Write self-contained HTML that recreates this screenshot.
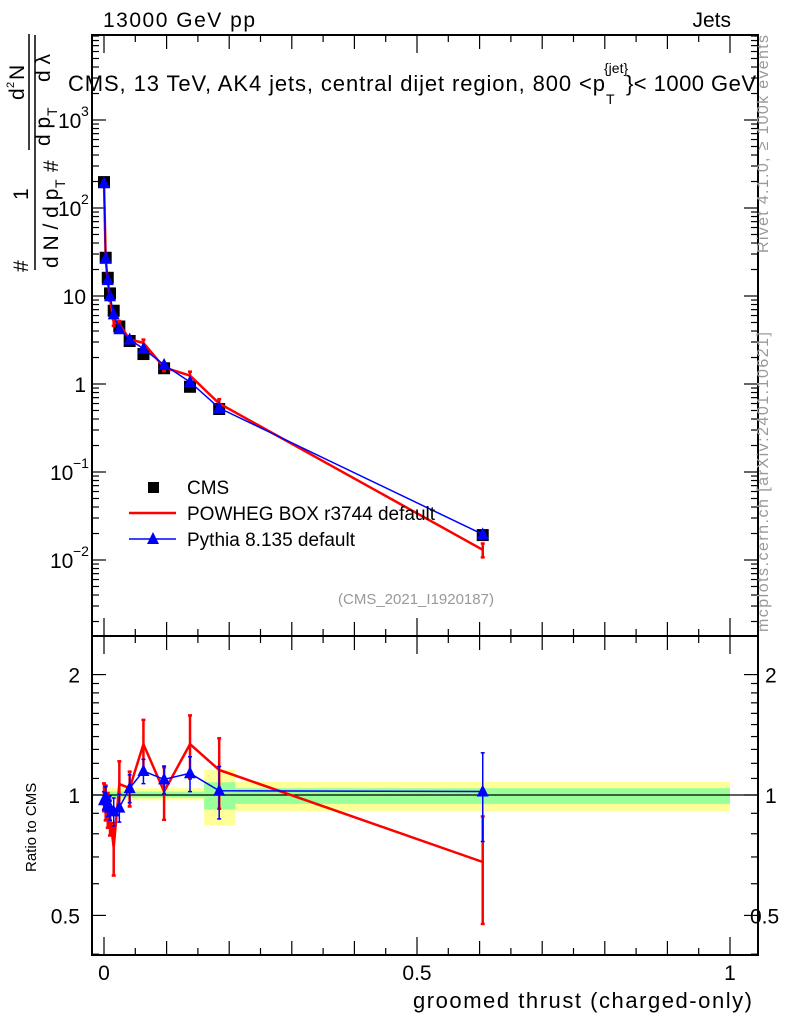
<!DOCTYPE html>
<html><head><meta charset="utf-8"><style>
body{margin:0;background:#fff}
svg{display:block;font-family:"Liberation Sans",sans-serif}
</style></head><body>
<svg id="c" width="786" height="1024" xmlns="http://www.w3.org/2000/svg"></svg>
<script>
const xs=[0,0.0027,0.006,0.0096,0.0155,0.0245,0.041,0.063,0.096,0.1374,0.184,0.605];
const cmsVals=[197,27.2,16.1,10.7,6.8,4.5,3.08,2.19,1.51,0.93,0.52,0.0192];
const powhegRatio=[0.99,0.96,0.92,0.88,0.74,1.065,1.04,1.34,1.02,1.34,1.155,0.68];
const powhegErr=[0.08,0.1,0.1,0.1,0.15,0.14,0.1,0.15,0.15,0.18,0.2,0.3];
const pythiaRatio=[0.97,0.99,0.94,0.93,0.91,0.93,1.04,1.148,1.094,1.133,1.025,1.02];
const pythiaErr=[0.05,0.06,0.06,0.07,0.08,0.08,0.08,0.07,0.08,0.1,0.15,0.25];
const bandEdges=[0,0.04,0.16,0.21,1.0];
const bandStatLo=[0.985,0.985,0.92,0.95];
const bandStatHi=[1.02,1.02,1.076,1.04];
const bandTotLo=[0.97,0.97,0.84,0.91];
const bandTotHi=[1.04,1.04,1.155,1.08];
const mainTicks=[[3,"10","3"],[2,"10","2"],[1,"10",""],[0,"1",""],[-1,"10","−1"],[-2,"10","−2"]];
const ratioTicks=[[2,"2"],[1,"1"],[0.5,"0.5"]];
const xTicks=[[0,"0"],[0.5,"0.5"],[1,"1"]];

const L=92,R=758,T=35,MB=636,RT=636,RB=955;
const X=v=>104+626*v;
const Y=v=>384-88*Math.log10(v);
const YR=v=>795-400*Math.log10(v);
const svg=document.getElementById('c');
const NS="http://www.w3.org/2000/svg";
function el(tag,attrs,parent){const e=document.createElementNS(NS,tag);for(const k in attrs)e.setAttribute(k,attrs[k]);(parent||svg).appendChild(e);return e;}
function txt(s,attrs,parent){const e=el('text',attrs,parent);e.textContent=s;return e;}

const bands=el('g',{});


for(let i=0;i<bandStatLo.length;i++){
 const x0=X(bandEdges[i]),x1=X(bandEdges[i+1]);
 el('rect',{x:x0,y:YR(bandTotHi[i]),width:x1-x0,height:YR(bandTotLo[i])-YR(bandTotHi[i]),fill:'#ffff99'},bands);
 el('rect',{x:x0,y:YR(bandStatHi[i]),width:x1-x0,height:YR(bandStatLo[i])-YR(bandStatHi[i]),fill:'#99ff99'},bands);
}
el('line',{x1:L,x2:R,y1:YR(1),y2:YR(1),stroke:'#000','stroke-width':1.2});

const f1=el('rect',{x:L,y:T,width:R-L,height:MB-T,fill:'none',stroke:'#000','stroke-width':2});

const f2=el('rect',{x:L,y:RT,width:R-L,height:RB-RT,fill:'none',stroke:'#000','stroke-width':2});


for(let d=-3;d<=3;d++){for(let m=1;m<10;m++){const y=Y(m*Math.pow(10,d));if(y<T||y>MB)continue;const len=m==1?14:7;
 el('line',{x1:L,x2:L+len,y1:y,y2:y,stroke:'#000','stroke-width':1.2});el('line',{x1:R,x2:R-len,y1:y,y2:y,stroke:'#000','stroke-width':1.2});}}
mainTicks.forEach(t=>{const y=Y(Math.pow(10,t[0]));const g=el('g',{});
 
 if(t[2]){txt(t[1],{x:t[0]<0?50:58,y:y+8,'font-size':21},g);txt(t[2],{x:t[0]<0?73:81,y:y-4,'font-size':14},g);}
 else txt(t[1],{x:86,y:y+8,'font-size':21,'text-anchor':'end'},g);});
[0.4,0.5,0.6,0.7,0.8,0.9,1,1.1,1.2,1.3,1.4,1.5,1.6,1.7,1.8,1.9,2].forEach(v=>{const y=YR(v);if(y<RT||y>RB)return;const len=(v==0.5||v==1||v==2)?14:7;
 el('line',{x1:L,x2:L+len,y1:y,y2:y,stroke:'#000','stroke-width':1.2});el('line',{x1:R,x2:R-len,y1:y,y2:y,stroke:'#000','stroke-width':1.2});});
ratioTicks.forEach(t=>{const y=YR(t[0]);
 const a=txt(t[1],{x:80,y:y+8,'font-size':21,'text-anchor':'end'});
 const b=txt(t[1],{x:t[0]<1?750:765,y:y+8,'font-size':21});});
for(let i=0;i<=20;i++){const v=i*0.05,x=X(v);const len=i%2==0?(i%10==0?18:14):7;
 el('line',{x1:x,x2:x,y1:T,y2:T+len,stroke:'#000','stroke-width':1.2});
 el('line',{x1:x,x2:x,y1:MB,y2:MB-len,stroke:'#000','stroke-width':1.2});
 el('line',{x1:x,x2:x,y1:MB,y2:MB+len,stroke:'#000','stroke-width':1.2});
 el('line',{x1:x,x2:x,y1:RB,y2:RB-len,stroke:'#000','stroke-width':1.2});
}
xTicks.forEach(t=>{const a=txt(t[1],{x:X(t[0]),y:980,'font-size':21,'text-anchor':'middle'});});

const pow=xs.map((x,i)=>[X(x),Y(cmsVals[i]*powhegRatio[i])]);
const pyt=xs.map((x,i)=>[X(x),Y(cmsVals[i]*pythiaRatio[i])]);
xs.forEach((x,i)=>{const r=el('rect',{x:X(x)-6,y:Y(cmsVals[i])-6,width:12,height:12,fill:'#000'});});
function series(pts,col,w,name,errs,vals,yf){
 const p=el('polyline',{points:pts.map(p=>p.join(',')).join(' '),fill:'none',stroke:col,'stroke-width':w});
 
 pts.forEach((q,i)=>{const v=vals[i];const y1=yf(v*(1+errs[i])),y2=yf(v*(1-errs[i]));
  el('line',{x1:q[0],x2:q[0],y1:y1,y2:y2,stroke:col,'stroke-width':w});
  el('line',{x1:q[0]-2,x2:q[0]+2,y1:y1,y2:y1,stroke:col,'stroke-width':w});
  el('line',{x1:q[0]-2,x2:q[0]+2,y1:y2,y2:y2,stroke:col,'stroke-width':w});});
}
series(pow,'#f00',2.5,'powheg-line',powhegErr.map(e=>e*0.6),xs.map((x,i)=>cmsVals[i]*powhegRatio[i]),Y);
series(pyt,'#00f',1.5,'pythia-line',pythiaErr.map(e=>e*0.5),xs.map((x,i)=>cmsVals[i]*pythiaRatio[i]),Y);
function tri(x,y,col,parent){const t=el('polygon',{points:`${x-6},${y+5} ${x+6},${y+5} ${x},${y-7}`,fill:col},parent);}
pyt.forEach(q=>tri(q[0],q[1],'#00f'));

series(xs.map((x,i)=>[X(x),YR(powhegRatio[i])]),'#f00',2.5,'powheg-ratio-line',powhegErr,powhegRatio,YR);
series(xs.map((x,i)=>[X(x),YR(pythiaRatio[i])]),'#00f',1.5,'pythia-ratio-line',pythiaErr,pythiaRatio,YR);
xs.forEach((x,i)=>tri(X(x),YR(pythiaRatio[i]),'#00f'));

const lg=el('g',{});
el('rect',{x:148,y:482,width:11,height:11,fill:'#000'},lg);
txt('CMS',{x:187,y:494,'font-size':19},lg);
el('line',{x1:129,x2:176,y1:513,y2:513,stroke:'#f00','stroke-width':2.5},lg);
txt('POWHEG BOX r3744 default',{x:187,y:520,'font-size':19,textLength:248},lg);
el('line',{x1:129,x2:176,y1:539,y2:539,stroke:'#00f','stroke-width':1.5},lg);
tri(153,539,'#00f',lg);
txt('Pythia 8.135 default',{x:187,y:546,'font-size':19,textLength:168},lg);

const T1=txt('13000 GeV pp',{x:103,y:27,'font-size':21,textLength:152});
const T2=txt('Jets',{x:731,y:27,'font-size':21,'text-anchor':'end'});
const T3=txt('CMS, 13 TeV, AK4 jets, central dijet region, 800 <p',{x:68,y:91,'font-size':22,textLength:537});
txt('{jet}',{x:604,y:73,'font-size':14});txt('T',{x:606,y:104,'font-size':14});
txt('}< 1000 GeV',{x:626,y:91,'font-size':22,textLength:130});
const T4=txt('(CMS_2021_I1920187)',{x:416,y:604,'font-size':15,fill:'#999','text-anchor':'middle'});
const T5=txt('groomed thrust (charged-only)',{x:413,y:1008,'font-size':22,textLength:339});
const T6=txt('Ratio to CMS',{x:0,y:0,'font-size':15,transform:'translate(36,872) rotate(-90)'});
const T7=txt('Rivet 4.1.0, ≥ 100k events',{x:0,y:0,'font-size':16,fill:'#999',textLength:218,transform:'translate(768,253) rotate(-90)'});
const T8=txt('mcplots.cern.ch [arXiv:2401.10621]',{x:0,y:0,'font-size':16,fill:'#999',textLength:300,transform:'translate(768,632) rotate(-90)'});
const yt=el('g',{});
txt('#',{x:0,y:0,'font-size':21,transform:'translate(28,272) rotate(-90)'},yt);
txt('1',{x:0,y:0,'font-size':21,transform:'translate(28,200) rotate(-90)'},yt);
el('line',{x1:35,x2:35,y1:35,y2:270,stroke:'#000','stroke-width':1.5},yt);
txt('d N / d p',{x:0,y:0,'font-size':21,transform:'translate(58,268) rotate(-90)'},yt);
txt('T',{x:0,y:0,'font-size':14,transform:'translate(65,188) rotate(-90)'},yt);
txt('#',{x:0,y:0,'font-size':21,transform:'translate(58,172) rotate(-90)'},yt);
txt('d',{x:0,y:0,'font-size':21,transform:'translate(24,100) rotate(-90)'},yt);
txt('2',{x:0,y:0,'font-size':11,transform:'translate(14,88) rotate(-90)'},yt);
txt('N',{x:0,y:0,'font-size':21,transform:'translate(24,80) rotate(-90)'},yt);
el('line',{x1:29,x2:29,y1:34,y2:150,stroke:'#000','stroke-width':1.5},yt);
txt('d p',{x:0,y:0,'font-size':21,transform:'translate(50,146) rotate(-90)'},yt);
txt('T',{x:0,y:0,'font-size':14,transform:'translate(57,116) rotate(-90)'},yt);
txt('d λ',{x:0,y:0,'font-size':21,transform:'translate(50,82) rotate(-90)'},yt);
</script>
</body></html>
